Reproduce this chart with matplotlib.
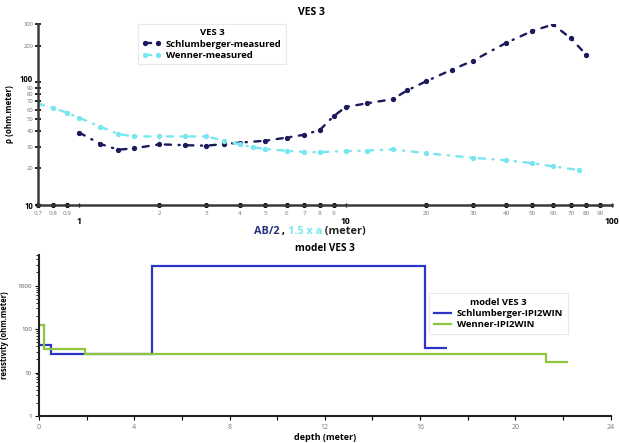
import matplotlib
matplotlib.use("Agg")
import matplotlib.pyplot as plt
from matplotlib.offsetbox import TextArea, HPacker, AnchoredOffsetbox
from matplotlib.ticker import FixedLocator, FixedFormatter, NullFormatter, LogLocator

plt.rcParams['font.family'] = ['Open Sans', 'DejaVu Sans']

# --- VES 3 measured apparent resistivity ---
schl_ab2 = [1, 1.2, 1.4, 1.6, 2, 2.5, 3, 3.5, 4, 5, 6, 7, 8, 9, 10, 12, 15, 17, 20,
            25, 30, 40, 50, 60, 70, 80]
schl_rho = [39, 31.5, 28.3, 29, 31.3, 30.8, 30.5, 31.5, 32.3, 33.5, 35.5, 37.5, 41, 53, 63,
            67.6, 73, 86, 102, 127, 150, 210, 262, 297, 229, 168]

wen_x = [0.7, 0.8, 0.9, 1.0, 1.2, 1.4, 1.6, 2, 2.5, 3, 3.5, 4, 4.5, 5, 6, 7, 8, 10, 12,
         15, 20, 30, 40, 50, 60, 75]
wen_rho = [67, 62, 56.5, 51.5, 43.6, 38, 36.3, 36.3, 36.3, 36.3, 33.5, 31.4, 29.5, 28.7,
           27.7, 27.1, 27, 27.6, 27.8, 28.5, 26.5, 24.3, 23.2, 22, 20.7, 19.3]

# --- IPI2WIN layered models (layer tops / resistivities) ---
schl_depth = [0, 0.5, 4.75, 16.2, 17.15]
schl_model = [42, 26, 2800, 36]
wen_depth = [0, 0.22, 1.95, 21.3, 22.2]
wen_model = [125, 34, 26, 17]

x_major = [1, 10, 100]
x_minor = [0.7, 0.8, 0.9, 2, 3, 4, 5, 6, 7, 8, 9, 20, 30, 40, 50, 60, 70, 80, 90]
y_major = [10, 100]
y_minor = [20, 30, 40, 50, 60, 70, 80, 90, 200, 300]

navy = '#1b1b5c'
cyan = '#78e6ee'
blue = '#2d35c4'
green = '#8dc63f'
grey_txt = '#777777'

fig = plt.figure(figsize=(6.2, 4.43), dpi=100)

# ---------------- top: measured curves ----------------
ax1 = fig.add_axes([0.0613, 0.537, 0.926, 0.409])
ax1.set_xscale('log')
ax1.set_yscale('log')
dash = (0, (2.6, 3.2, 0.5, 3.2))
ax1.plot(schl_ab2, schl_rho, color=navy, lw=1.7, linestyle=dash,
         dash_capstyle='round', marker='o', ms=2.8, label='Schlumberger-measured')
ax1.plot(wen_x, wen_rho, color=cyan, lw=1.7, linestyle=dash,
         dash_capstyle='round', marker='o', ms=2.8, label='Wenner-measured')
ax1.set_xlim(0.7, 100)
ax1.set_ylim(10, 300)
for s in ['top', 'right']:
    ax1.spines[s].set_visible(False)
for s in ['left', 'bottom']:
    ax1.spines[s].set_linewidth(1.8)
    ax1.spines[s].set_color('#3a3a3a')

ax1.xaxis.set_major_locator(FixedLocator(x_major))
ax1.xaxis.set_major_formatter(FixedFormatter([str(v) for v in x_major]))
ax1.xaxis.set_minor_locator(FixedLocator(x_minor))
ax1.xaxis.set_minor_formatter(FixedFormatter([('%g' % v) for v in x_minor]))
ax1.tick_params(axis='x', which='major', length=3, width=1, direction='inout',
                pad=7, labelsize=6.2)
ax1.tick_params(axis='x', which='minor', length=3, direction='inout', pad=3,
                labelsize=4.5, labelcolor=grey_txt)
for lab in ax1.get_xticklabels():
    lab.set_fontweight('bold')
for t in ax1.xaxis.get_minor_ticks():
    t.tick1line.set_marker('o')
    t.tick1line.set_markersize(3)
    t.tick1line.set_color('black')

# y ticks: the "100" label is drawn separately, nudged up clear of "90"
ax1.yaxis.set_major_locator(FixedLocator(y_major))
ax1.yaxis.set_major_formatter(FixedFormatter(['10', '']))
ax1.yaxis.set_minor_locator(FixedLocator(y_minor))
ax1.yaxis.set_minor_formatter(FixedFormatter([str(v) for v in y_minor]))
ax1.tick_params(axis='y', which='major', length=5, width=1.2, direction='inout',
                labelsize=5.6, pad=1)
ax1.tick_params(axis='y', which='minor', length=5, width=1.2, direction='inout',
                labelsize=4.2, labelcolor=grey_txt, pad=1)
for lab in ax1.get_yticklabels():
    lab.set_fontweight('bold')
ax1.annotate('100', xy=(0, 100), xycoords=('axes fraction', 'data'),
             xytext=(-3.5, 2.2), textcoords='offset points', ha='right', va='center',
             fontsize=5.6, fontweight='bold')

ax1.set_ylabel('ρ (ohm.meter)', fontsize=5.8, fontweight='bold')
ax1.yaxis.set_label_coords(-0.042, 0.5)
fig.text(0.503, 0.972, 'VES 3', ha='center', va='center', fontsize=7.5, fontweight='bold')

leg1 = ax1.legend(title='VES 3', loc='upper left', bbox_to_anchor=(0.174, 1.0),
                  prop={'size': 6.8, 'weight': 'bold'}, numpoints=2, frameon=True,
                  fancybox=False, handlelength=2.0, handletextpad=0.5, borderpad=0.45,
                  labelspacing=0.25, borderaxespad=0)
leg1.get_title().set_fontsize(6.8)
leg1.get_title().set_fontweight('bold')
leg1.get_frame().set_edgecolor('#e4e4e4')
leg1.get_frame().set_linewidth(0.8)

# multicolour x label
parts = [TextArea('AB/2', textprops=dict(color='#27307e', fontsize=7.8, fontweight='bold')),
         TextArea(' , ', textprops=dict(color='black', fontsize=7.8, fontweight='bold')),
         TextArea('1.5 x a', textprops=dict(color=cyan, fontsize=7.8, fontweight='bold')),
         TextArea(' (meter)', textprops=dict(color='#222222', fontsize=7.8, fontweight='bold'))]
box = HPacker(children=parts, align='baseline', pad=0, sep=0)
anch = AnchoredOffsetbox(loc='center', child=box, frameon=False,
                         bbox_to_anchor=(0.50, 0.477), bbox_transform=fig.transFigure,
                         pad=0, borderpad=0)
fig.add_artist(anch)

# ---------------- bottom: layered models ----------------
ax2 = fig.add_axes([0.0629, 0.061, 0.922, 0.363])
ax2.set_yscale('log')
ax2.stairs(schl_model, schl_depth, color=blue, lw=1.6, baseline=None,
           label='Schlumberger-IPI2WIN')
ax2.stairs(wen_model, wen_depth, color=green, lw=1.6, baseline=None,
           label='Wenner-IPI2WIN')
ax2.set_xlim(0, 24)
ax2.set_ylim(1, 5000)
for s in ['top', 'right']:
    ax2.spines[s].set_visible(False)
for s in ['left', 'bottom']:
    ax2.spines[s].set_linewidth(1.5)
    ax2.spines[s].set_color('#222222')
ax2.set_xticks(range(0, 25, 2))
ax2.set_xticklabels([str(v) if v % 4 == 0 else '' for v in range(0, 25, 2)])
ax2.tick_params(axis='x', length=3, direction='out', labelsize=5, labelcolor=grey_txt, pad=3)
ax2.yaxis.set_major_locator(FixedLocator([1, 10, 100, 1000]))
ax2.yaxis.set_major_formatter(FixedFormatter(['1', '10', '100', '1000']))
ax2.yaxis.set_minor_locator(LogLocator(base=10, subs=range(2, 10)))
ax2.yaxis.set_minor_formatter(NullFormatter())
ax2.tick_params(axis='y', which='major', length=3, direction='out', labelsize=4.5,
                labelcolor='#555555', pad=2)
ax2.tick_params(axis='y', which='minor', length=2, direction='out')
ax2.set_xlabel('depth (meter)', fontsize=6.5, fontweight='bold', labelpad=1)
ax2.set_ylabel('resistivity (ohm.meter)', fontsize=5.5, fontweight='bold', labelpad=6)
ax2.set_title('model VES 3', fontsize=7.2, fontweight='bold', pad=3)

leg2 = ax2.legend(title='model VES 3', loc='upper left', bbox_to_anchor=(0.682, 0.765),
                  prop={'size': 6.8, 'weight': 'bold'}, frameon=True, fancybox=False,
                  handlelength=1.8, handletextpad=0.6, borderpad=0.55, labelspacing=0.2,
                  borderaxespad=0)
leg2.get_title().set_fontsize(6.8)
leg2.get_title().set_fontweight('bold')
leg2.get_frame().set_edgecolor('#e4e4e4')
leg2.get_frame().set_linewidth(0.8)

fig.savefig('out.png', dpi=100)
